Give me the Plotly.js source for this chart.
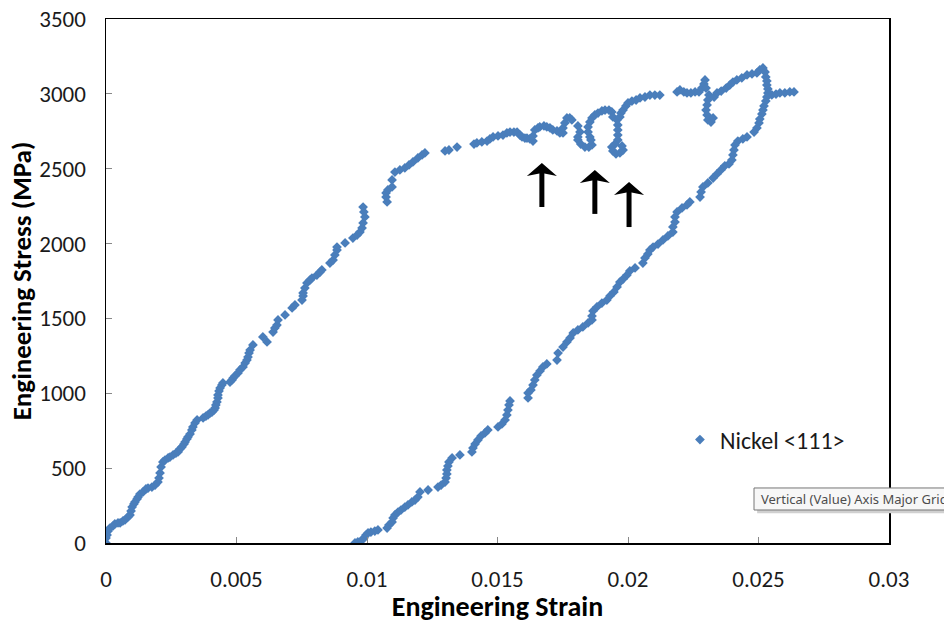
<!DOCTYPE html>
<html>
<head>
<meta charset="utf-8">
<script src="https://cdn.plot.ly/plotly-3.0.1.min.js"></script>
<style>html,body{margin:0;padding:0;background:#fff;}#chart{width:944px;height:624px;}</style>
</head>
<body>
<div id="chart"></div>
<script>
// Loading branch (engineering strain, engineering stress in MPa)
const strainLoad = [0,0,0.00004,0.00008,0.00015,0.00027,0.00034,0.00046,0.00054,0.00065,0.00073,0.00084,0.00092,0.00096,0.001,0.00107,0.00111,0.00119,0.00123,0.0013,0.00142,0.00153,0.00161,0.00176,0.00188,0.00199,0.00203,0.00207,0.00211,0.00218,0.00226,0.00238,0.00245,0.00257,0.00268,0.00276,0.00283,0.00291,0.00299,0.00303,0.0031,0.00314,0.00322,0.00329,0.00333,0.00341,0.00349,0.00372,0.00383,0.00391,0.00398,0.00406,0.00414,0.00418,0.00421,0.00425,0.00429,0.00429,0.00433,0.00437,0.00444,0.00448,0.00475,0.00483,0.00487,0.00494,0.00506,0.00513,0.00525,0.00533,0.0054,0.00544,0.00548,0.00552,0.00563,0.00601,0.00617,0.0064,0.00647,0.00655,0.00659,0.00686,0.00713,0.00724,0.00751,0.00755,0.00755,0.00762,0.0077,0.00782,0.00789,0.00808,0.0082,0.00827,0.00858,0.0087,0.00877,0.00885,0.00885,0.00916,0.00946,0.00962,0.00973,0.00981,0.00985,0.00992,0.00988,0.00985,0.01077,0.01073,0.01073,0.0108,0.01096,0.01096,0.01107,0.01126,0.01145,0.01161,0.01176,0.01195,0.01211,0.01222,0.01299,0.01314,0.01345,0.0141,0.01421,0.0144,0.0146,0.01471,0.01483,0.01502,0.01521,0.01536,0.01548,0.01563,0.01575,0.01586,0.01594,0.01605,0.01613,0.01624,0.01636,0.01636,0.01643,0.01655,0.01662,0.01678,0.01689,0.01701,0.01712,0.01728,0.01739,0.01751,0.01751,0.01758,0.01766,0.01777,0.01785,0.01808,0.01816,0.01808,0.01808,0.01819,0.01835,0.0185,0.01862,0.01858,0.01854,0.01847,0.01847,0.01854,0.01862,0.01873,0.01885,0.019,0.01912,0.01927,0.01938,0.01942,0.01958,0.01961,0.01961,0.01961,0.01961,0.0195,0.01938,0.01942,0.01954,0.01969,0.01981,0.01977,0.01969,0.01973,0.01981,0.01992,0.02,0.02015,0.02031,0.02046,0.02065,0.02084,0.02103,0.02122,0.02188,0.02199,0.02214,0.02226,0.02241,0.02257,0.02272,0.02283,0.02291,0.02295,0.02299,0.0231,0.02306,0.02303,0.02299,0.02303,0.02306,0.02318,0.02326,0.0233,0.02341,0.02357,0.02376,0.0239,0.02402,0.02417,0.02436,0.02456,0.02475,0.02494,0.02505,0.02517,0.02525,0.02528,0.02532,0.02532,0.02536,0.02536,0.02551,0.02567,0.02582,0.02601,0.0262,0.02636];
const stressLoad = [0,33,53,80,100,114,127,134,134,147,154,174,187,214,240,261,274,294,307,327,341,361,367,374,387,407,434,468,508,541,554,568,574,588,601,608,628,641,661,675,695,708,728,755,775,802,822,835,848,855,868,875,888,902,922,942,969,989,1015,1035,1055,1069,1075,1089,1102,1116,1136,1156,1176,1202,1222,1242,1269,1289,1323,1376,1343,1409,1436,1456,1490,1523,1570,1590,1623,1650,1670,1703,1737,1757,1770,1790,1810,1824,1870,1890,1924,1957,1977,2004,2037,2057,2077,2104,2138,2178,2211,2244,2278,2311,2338,2358,2378,2425,2478,2492,2505,2525,2545,2572,2592,2605,2619,2625,2645,2665,2672,2679,2685,2699,2712,2719,2725,2739,2745,2745,2745,2725,2712,2705,2705,2699,2685,2719,2759,2772,2779,2786,2779,2772,2759,2752,2739,2739,2772,2806,2839,2839,2826,2786,2746,2712,2692,2665,2645,2645,2659,2692,2712,2746,2779,2812,2839,2859,2872,2886,2892,2892,2879,2846,2826,2792,2759,2725,2692,2665,2645,2619,2599,2605,2625,2652,2846,2872,2892,2919,2939,2952,2959,2973,2979,2992,2992,2992,3013,3026,3013,3006,3006,3013,3013,3039,3066,3093,3039,2993,2959,2926,2892,2859,2826,2812,2839,2979,3006,3019,3039,3059,3079,3093,3106,3126,3133,3140,3160,3173,3146,3113,3086,3059,3033,3006,2993,2999,3006,3006,3013,3013];
// Unloading branch
const strainUnload = [0.02532,0.02528,0.02521,0.02517,0.02513,0.02505,0.02502,0.02494,0.02483,0.02456,0.0244,0.02421,0.0241,0.02406,0.02402,0.02398,0.02387,0.02371,0.02356,0.02341,0.02326,0.02306,0.02287,0.0228,0.02276,0.02237,0.02226,0.02207,0.02188,0.0218,0.0218,0.02172,0.02172,0.02153,0.02134,0.02115,0.02096,0.02084,0.02076,0.02065,0.02057,0.02027,0.02007,0.01996,0.01981,0.01969,0.01958,0.01946,0.01931,0.01919,0.019,0.01881,0.01866,0.01862,0.01862,0.01847,0.01827,0.01808,0.0179,0.01778,0.01766,0.01751,0.01732,0.01728,0.01689,0.01674,0.01663,0.01651,0.01643,0.01636,0.01628,0.01617,0.01617,0.01548,0.01544,0.0154,0.01536,0.01529,0.01517,0.01502,0.01463,0.01452,0.01437,0.01425,0.01414,0.01406,0.01402,0.01356,0.01326,0.01314,0.0131,0.01306,0.01306,0.01303,0.01299,0.01284,0.01272,0.01234,0.01203,0.01195,0.01184,0.01172,0.01157,0.01145,0.0113,0.01119,0.01107,0.011,0.01096,0.01084,0.01077,0.01042,0.0103,0.01015,0.01004,0.00996,0.00988,0.00981,0.00965,0.00954];
const stressUnload = [2979,2952,2919,2892,2866,2832,2806,2772,2745,2712,2699,2685,2659,2625,2592,2558,2532,2519,2492,2465,2438,2405,2378,2345,2311,2278,2258,2238,2211,2178,2144,2111,2077,2051,2024,1997,1977,1957,1930,1904,1870,1837,1817,1790,1763,1743,1710,1677,1650,1623,1603,1577,1550,1516,1490,1470,1443,1423,1403,1370,1343,1309,1269,1222,1196,1176,1149,1122,1089,1055,1022,1002,969,949,922,888,855,822,795,775,755,735,715,688,661,635,608,588,568,541,514,488,461,434,407,387,374,354,341,307,287,274,254,240,220,207,187,167,140,120,100,87,80,73,67,53,33,20,7,0];
// Axis ticks
const xTickVals = [0,0.005,0.01,0.015,0.02,0.025,0.03];
const xTickText = ["0","0.005","0.01","0.015","0.02","0.025","0.03"];
const yTickVals = [0,500,1000,1500,2000,2500,3000,3500];
const yTickText = ["0","500","1000","1500","2000","2500","3000","3500"];
const seriesName = "Nickel &lt;111&gt;";

const FONT = "Carlito, Calibri, Lato, sans-serif";

const trace = {
  type: 'scatter',
  mode: 'markers',
  name: seriesName,
  x: strainLoad.concat(strainUnload),
  y: stressLoad.concat(stressUnload),
  marker: {symbol: 'diamond', size: 7.5, color: '#4a7ebb', line: {width: 0}},
  hoverinfo: 'x+y'
};

// Upward arrows (tip anchored at a data point, drawn in pixel offsets)
function arrowShapes(x, y, len) {
  return [
    {type: 'line', xref: 'x', yref: 'y', xsizemode: 'pixel', ysizemode: 'pixel',
     xanchor: x, yanchor: y, x0: 0, x1: 0, y0: -9, y1: -len,
     line: {color: '#000', width: 5}, layer: 'above'},
    {type: 'path', xref: 'x', yref: 'y', xsizemode: 'pixel', ysizemode: 'pixel',
     xanchor: x, yanchor: y, path: 'M0,0 L-15,-13 L0,-10 L15,-13 Z',
     fillcolor: '#000', line: {width: 0}, layer: 'above'}
  ];
}

const layout = {
  width: 944, height: 624,
  margin: {l: 106, r: 55, t: 19, b: 81, pad: 0},
  paper_bgcolor: '#ffffff', plot_bgcolor: '#ffffff',
  font: {family: FONT, size: 22, color: '#1a1a1a'},
  showlegend: true,
  legend: {x: 0.733, y: 0.1966, xanchor: 'left', yanchor: 'middle', bgcolor: 'rgba(0,0,0,0)',
           font: {family: FONT, size: 24, color: '#1a1a1a'}},
  xaxis: {
    range: [0, 0.03], tickvals: xTickVals, ticktext: xTickText, automargin: false,
    showgrid: false, zeroline: false, showline: true, linecolor: '#000', linewidth: 1.5, mirror: true,
    ticks: 'inside', ticklen: 6, tickcolor: '#888', tickwidth: 1, ticklabelstandoff: 15,
    tickfont: {family: FONT, size: 23, color: '#1a1a1a'},
    title: {text: '<b>Engineering Strain</b>', font: {family: FONT, size: 28, color: '#000'}}
  },
  yaxis: {
    range: [0, 3500], tickvals: yTickVals, ticktext: yTickText, automargin: 'left',
    showgrid: false, zeroline: false, showline: true, linecolor: '#000', linewidth: 1.5, mirror: true,
    ticks: 'inside', ticklen: 6, tickcolor: '#888', tickwidth: 1, ticklabelstandoff: 14,
    tickfont: {family: FONT, size: 23, color: '#1a1a1a'},
    title: {text: '<b>Engineering Stress (MPa)</b>', font: {family: FONT, size: 27, color: '#000'}, standoff: 0}
  },
  shapes: [
    {type: 'rect', xref: 'paper', yref: 'paper', x0: 0.8316, x1: 1.09, y0: 0.057, y1: 0.099,
     fillcolor: '#d0d0d0', line: {width: 0}, layer: 'above'},
    {type: 'rect', xref: 'paper', yref: 'paper', x0: 0.8276, x1: 1.08, y0: 0.063, y1: 0.105,
     fillcolor: '#f7f7f7', line: {color: '#767676', width: 1}, layer: 'above'}
  ].concat(arrowShapes(0.0167, 2538, 44), arrowShapes(0.01873, 2492, 44), arrowShapes(0.02004, 2411, 45)),
  annotations: [
    {xref: 'paper', yref: 'paper', x: 0.834, y: 0.084, xanchor: 'left', yanchor: 'middle',
     text: 'Vertical (Value) Axis Major Gridlines', showarrow: false,
     font: {family: 'Noto Sans, Open Sans, sans-serif', size: 13, color: '#4d4d4d'}}
  ]
};

Plotly.newPlot('chart', [trace], layout, {displayModeBar: false, staticPlot: true});
</script>
</body>
</html>
